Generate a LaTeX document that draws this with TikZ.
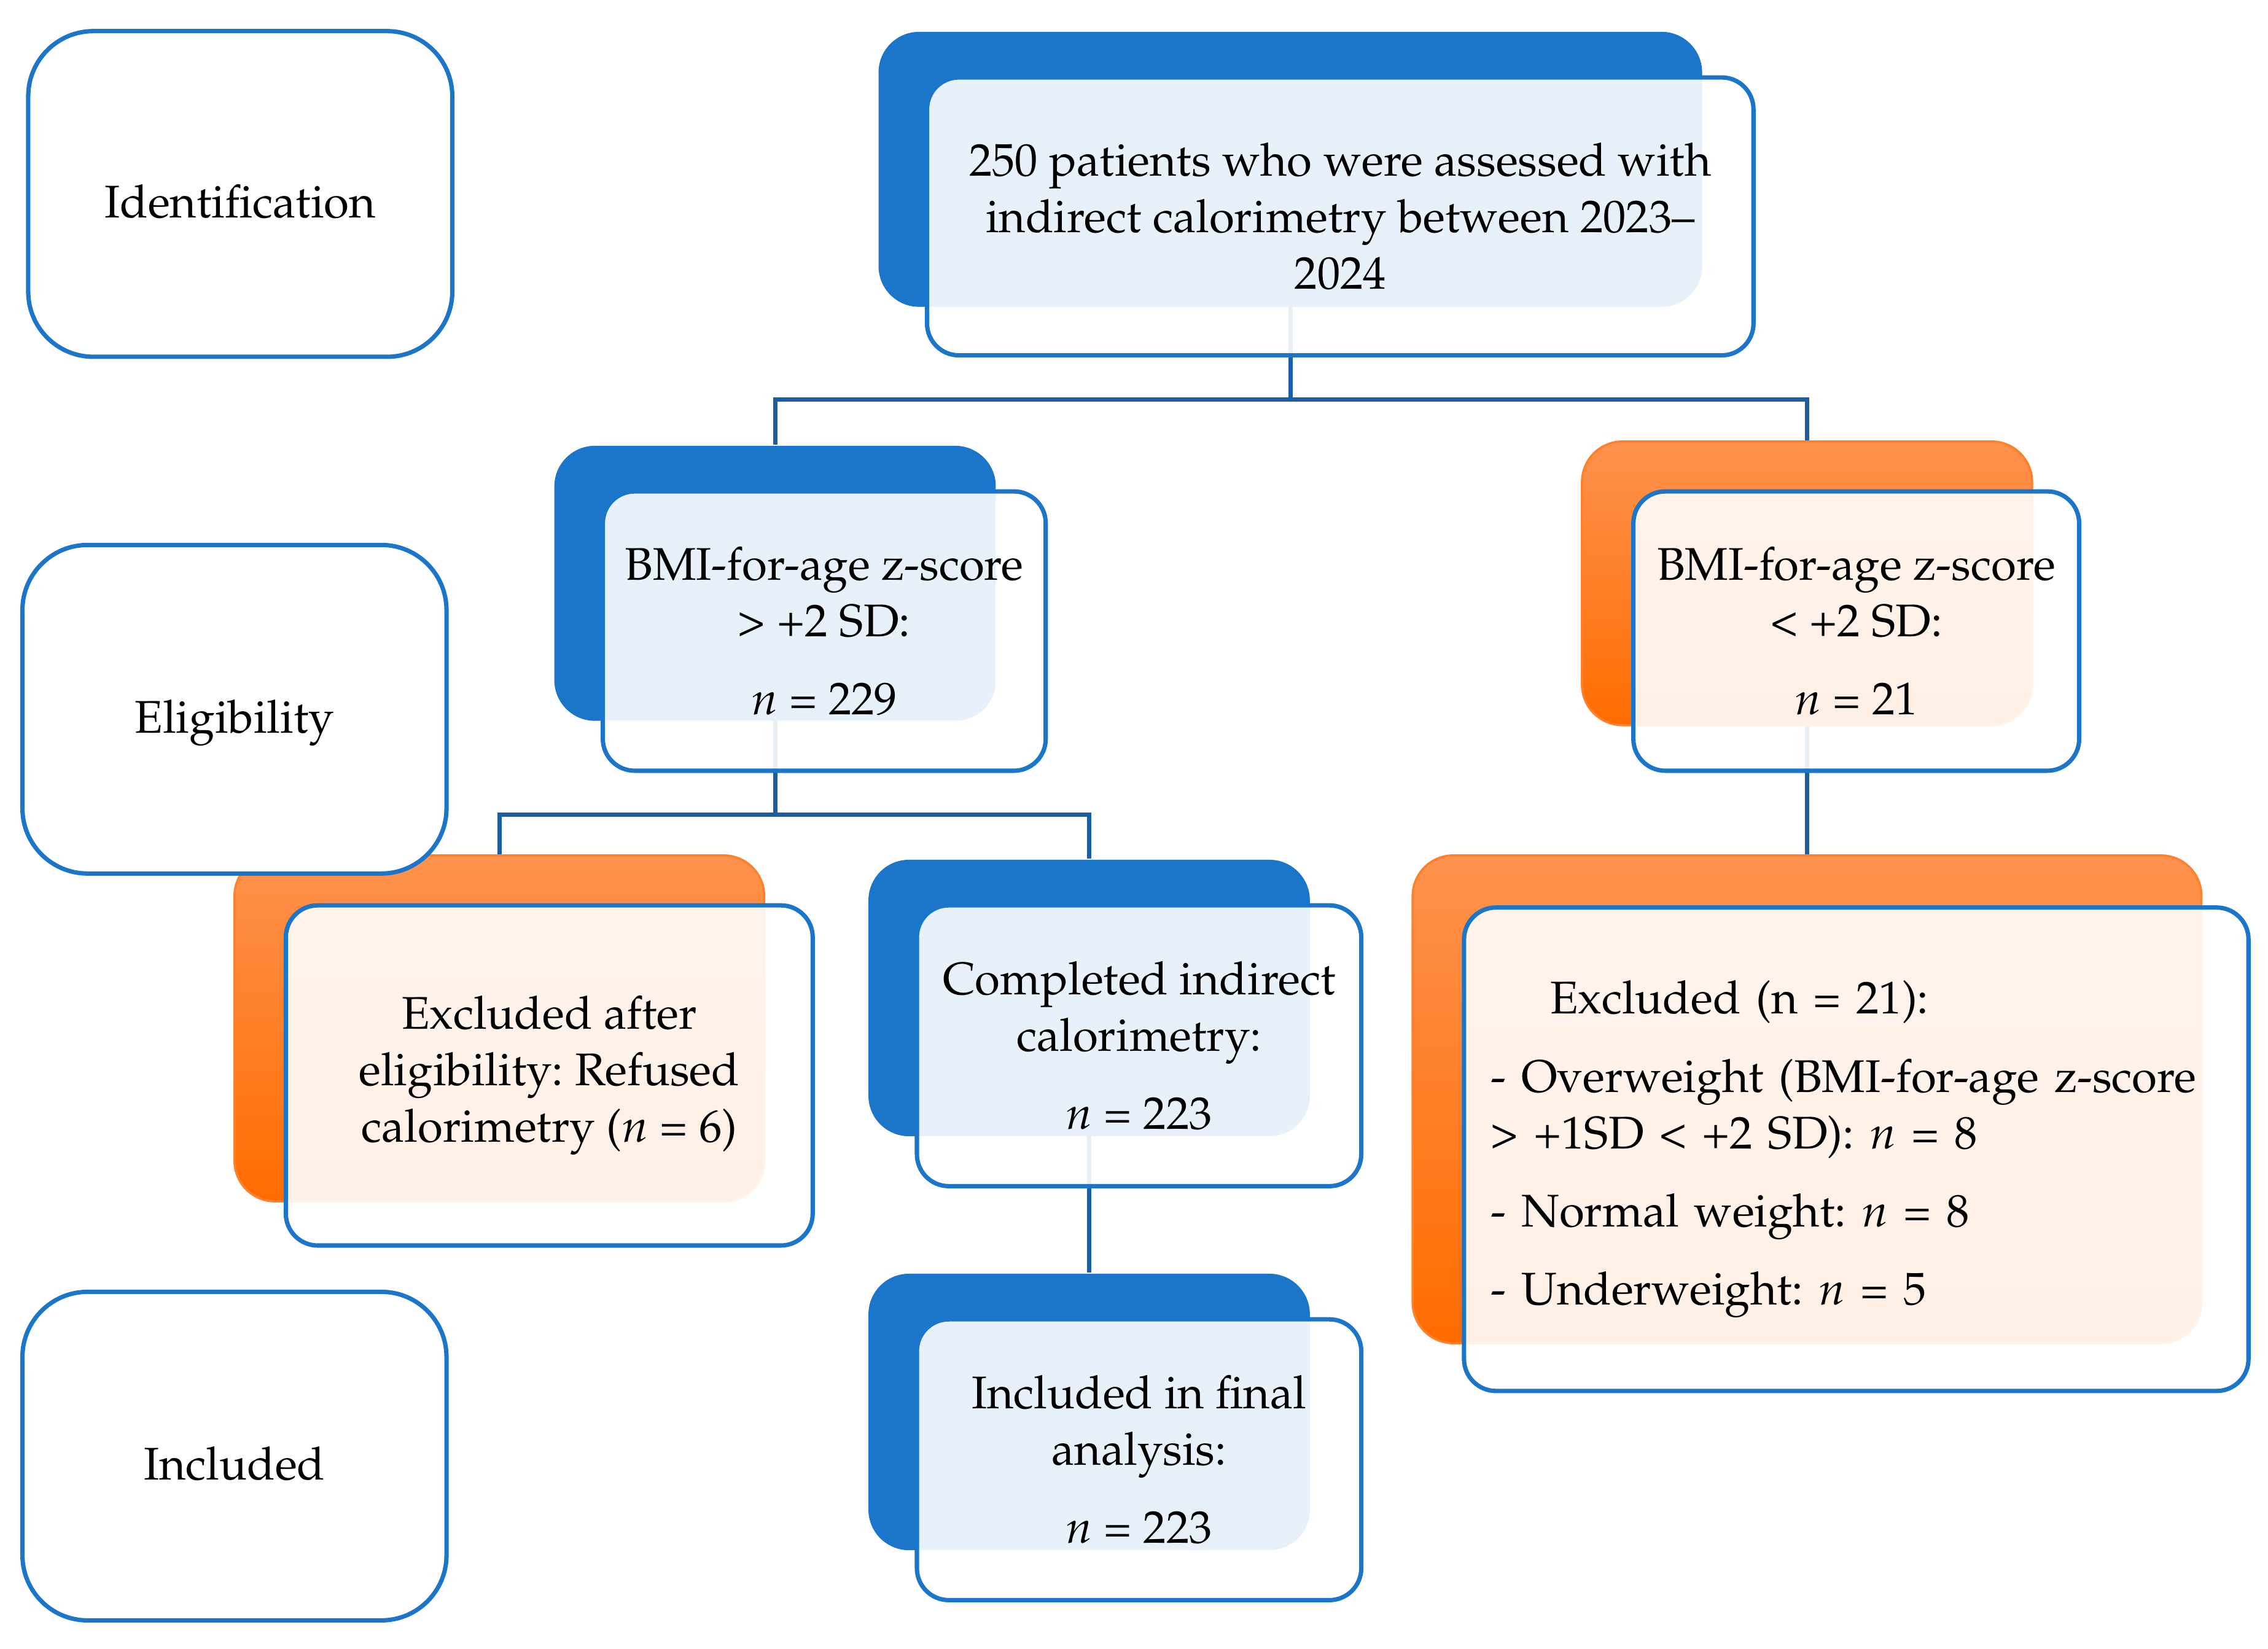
\documentclass[tikz,border=0pt]{standalone}
\usepackage[T1]{fontenc}
\usepackage{mathpazo}
\frenchspacing

\definecolor{boxblue}{RGB}{27,117,201}
\definecolor{linkblue}{RGB}{26,94,166}
\definecolor{orangetop}{RGB}{255,146,78}
\definecolor{orangebot}{RGB}{255,108,0}
\definecolor{orangeedge}{RGB}{255,128,40}

\pgfdeclarelayer{bg}
\pgfsetlayers{bg,main}

\tikzset{
  backblue/.style={rounded corners=2.8mm, fill=boxblue, inner sep=0pt},
  backorange/.style={rounded corners=2.8mm, top color=orangetop, bottom color=orangebot,
    draw=orangeedge, line width=0.15mm, inner sep=0pt},
  front/.style={rounded corners=2.2mm, draw=boxblue, line width=0.3mm, fill=white,
    fill opacity=0.9, text opacity=1, align=center, font=\fontsize{9}{11.1}\selectfont},
  stage/.style={rounded corners=4.5mm, draw=boxblue, line width=0.3mm, fill=white,
    text height=3.8mm, text depth=0.5mm, font=\fontsize{9}{11.1}\selectfont},
  link/.style={draw=linkblue, line width=0.3mm},
}

\begin{document}
\begin{tikzpicture}[x=0.1mm, y=-0.1mm]
      \useasboundingbox (0,0) rectangle (1567,1139);
      % back shapes
      \node[backblue, minimum width=56.9mm, minimum height=19mm] (topback) at (891.5,117) {};
      \node[backblue, minimum width=30.5mm, minimum height=19mm] (gtback) at (535.5,403) {};
      \node[backorange, minimum width=31.1mm, minimum height=19.6mm] (ltback) at (1248.5,403) {};
      \node[backorange, minimum width=36.6mm, minimum height=23.9mm] (exafterback) at (345,710.5) {};
      \node[backblue, minimum width=30.5mm, minimum height=19.1mm] (doneback) at (752.5,689.5) {};
      \node[backblue, minimum width=30.5mm, minimum height=19.1mm] (finalback) at (752.5,975.5) {};
      \node[backorange, minimum width=54.5mm, minimum height=33.7mm] (exbigback) at (1248.5,759.5) {};
      % connectors
      \coordinate (j1) at (891.5,276);
      \coordinate (j2) at (535.5,563);
      \begin{pgfonlayer}{bg}
        \draw[link] (topback.center) -- (j1);
        \draw[link] (gtback.north) |- (j1) -| (ltback.north);
        \draw[link] (gtback.center) -- (j2);
        \draw[link] (exafterback.north) |- (j2) -| (doneback.north);
        \draw[link] (ltback.center) -- (exbigback.north);
        \draw[link] (doneback.center) -- (finalback.north);
      \end{pgfonlayer}
      % front boxes
      \node[front, minimum width=57.1mm, minimum height=19.2mm] (top) at (926,149.5)
        {250 patients who were assessed with\\indirect calorimetry between 2023--\\2024};
      \node[front, minimum width=30.6mm, minimum height=19.3mm] (gt) at (569.5,436)
        {BMI-for-age z-score\\> +2 SD:\\[1.5mm]$n$ = 229};
      \node[front, minimum width=30.8mm, minimum height=19.3mm] (lt) at (1282.5,436)
        {BMI-for-age z-score\\< +2 SD:\\[1.5mm]$n$ = 21};
      \node[front, minimum width=36.4mm, minimum height=23.5mm] (exafter) at (379.5,743)
        {Excluded after\\eligibility: Refused\\calorimetry ($n$ = 6)};
      \node[front, minimum width=30.7mm, minimum height=19.4mm] (done) at (787,722.5)
        {Completed indirect\\calorimetry:\\[1.5mm]$n$ = 223};
      \node[front, minimum width=30.7mm, minimum height=19.4mm] (final) at (787,1008.5)
        {Included in final\\analysis:\\[1.5mm]$n$ = 223};
      \node[front, align=left, text width=50.5mm, inner sep=0pt,
        minimum width=54.2mm, minimum height=33.4mm] (exbig) at (1282.5,794)
        {\hspace*{4.1mm}Excluded (n = 21):\\[1.5mm]
         - Overweight (BMI-for-age z-score\\
         > +1SD < +2 SD): $n$ = 8\\[1.5mm]
         - Normal weight: $n$ = 8\\[1.5mm]
         - Underweight: $n$ = 5};
      % stage labels
      \node[stage, minimum width=29.3mm, minimum height=22.5mm] (ident) at (166,134) {Identification};
      \node[stage, minimum width=29.3mm, minimum height=22.7mm] (elig) at (162,490) {Eligibility};
      \node[stage, minimum width=29.3mm, minimum height=22.7mm] (incl) at (162,1006) {Included};
    \end{tikzpicture}
\end{document}
